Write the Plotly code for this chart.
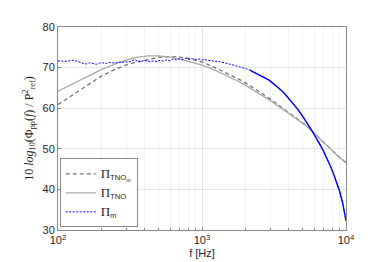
import plotly.graph_objects as go

# ---- data ----
f_meas = [100, 105, 110, 116, 122, 128, 135, 142, 150, 158, 166, 175, 184, 194, 204, 215, 226, 238, 250, 263,
          277, 292, 307, 323, 340, 358, 377, 397, 418, 440, 463, 487, 513, 540, 568, 598, 630, 663, 698, 735,
          773, 814, 857, 902, 950, 1000, 1050, 1100, 1160, 1220, 1280, 1350, 1420, 1500, 1580, 1660, 1750, 1840,
          1940, 2040, 2150, 2260, 2380, 2500, 2630, 2770, 2920, 3070, 3230, 3400, 3580, 3770, 3970, 4180, 4400,
          4630, 4870, 5130, 5400, 5680, 5980, 6300, 6630, 6980, 7350, 7730, 8140, 8570, 9020, 9500, 10000]
pi_m = [71.6, 71.7, 71.5, 71.6, 71.7, 71.8, 71.6, 71.3, 71.0, 70.9, 71.2, 71.0, 70.8, 71.1, 71.2, 71.0, 71.3, 71.2,
        71.1, 71.4, 71.2, 71.5, 71.3, 71.6, 72.0, 71.5, 71.4, 71.8, 71.6, 71.4, 71.7, 71.5, 71.8, 71.6, 71.9, 71.7,
        72.1, 71.9, 72.2, 72.0, 72.3, 72.0, 72.2, 72.0, 72.1, 71.9, 72.0, 71.7, 71.8, 71.5, 71.6, 71.3, 71.2, 71.0,
        70.8, 70.6, 70.3, 70.2, 69.9, 69.7, 69.4, 69.0, 68.7, 68.3, 67.9, 67.4, 66.9, 66.3, 65.7, 65.0, 64.3, 63.5,
        62.6, 61.7, 60.7, 59.7, 58.6, 57.5, 56.2, 55.0, 53.7, 52.3, 50.9, 49.4, 47.8, 46.0, 44.1, 42.0, 39.6, 36.5, 32.3]
dense_start = 60  # from ~2 kHz the noisy measurement looks solid

f_model = [100, 125, 150, 170, 200, 250, 300, 350, 420, 500, 600, 700, 800, 1000, 1230, 1500, 1770, 2080,
           2500, 3030, 4000, 5180, 6050, 7000, 8000, 8830, 10000]
pi_tno = [64.2, 65.9, 67.3, 68.2, 69.5, 70.9, 71.9, 72.5, 72.9, 72.9, 72.6, 72.1, 71.6, 70.6, 69.4, 68.0, 66.7,
          65.3, 63.6, 61.7, 58.7, 55.9, 53.7, 51.5, 49.5, 48.1, 46.5]
pi_tno_m = [60.9, 63.2, 65.0, 66.2, 67.9, 69.6, 70.7, 71.4, 72.0, 72.5, 72.7, 72.6, 72.3, 71.4, 70.0, 68.6, 67.3,
            65.9, 64.1, 62.1, 58.9, 56.0, 53.8, 51.6, 49.6, 48.2, 46.6]

x_tickvals = [100, 1000, 10000]
x_ticktext = ["10<sup>2</sup>", "10<sup>3</sup>", "10<sup>4</sup>"]
x_minorvals = [200, 300, 400, 500, 600, 700, 800, 900, 2000, 3000, 4000, 5000, 6000, 7000, 8000, 9000]
y_tickvals = [30, 40, 50, 60, 70, 80]

fig = go.Figure()
fig.add_trace(go.Scatter(x=f_model, y=pi_tno_m, mode="lines",
                         line=dict(color="#757575", width=1.3, dash="4px,3px"),
                         name="<span style='font-family:Liberation Serif;font-size:13px'>Π</span><sub>TNO<sub>m</sub></sub>"))
fig.add_trace(go.Scatter(x=f_model, y=pi_tno, mode="lines",
                         line=dict(color="#a8a8a8", width=1.3),
                         name="<span style='font-family:Liberation Serif;font-size:13px'>Π</span><sub>TNO</sub>"))
fig.add_trace(go.Scatter(x=f_meas[dense_start:], y=pi_m[dense_start:], mode="lines",
                         line=dict(color="#0000ff", width=1.4), showlegend=False, hoverinfo="skip"))
fig.add_trace(go.Scatter(x=f_meas, y=pi_m, mode="lines",
                         line=dict(color="#0000ff", width=1, dash="2px,1.5px"),
                         name="<span style='font-family:Liberation Serif;font-size:13px'>Π</span><sub>m</sub>"))

axis_common = dict(showline=True, mirror=True, linecolor="#8a8a8a", linewidth=1,
                   gridcolor="#e6e6e6", zeroline=False, ticks="inside", ticklen=3,
                   tickcolor="#8a8a8a", tickfont=dict(family="Liberation Sans, Arial", size=11, color="#262626"))

fig.update_xaxes(type="log", range=[2, 4], tickvals=x_tickvals, ticktext=x_ticktext,
                 title=dict(text="f [Hz]", font=dict(family="Liberation Sans, Arial", size=11, color="#262626"),
                            standoff=4),
                 minor=dict(tickvals=x_minorvals, showgrid=True, gridcolor="#f2f2f2",
                            ticks="inside", ticklen=2, tickcolor="#8a8a8a"),
                 **axis_common)
fig.update_yaxes(range=[30, 80], tickvals=y_tickvals,
                 title=dict(text="10 <i>log</i><sub>10</sub>(Φ<sub>pp</sub>(<i>f</i>) / P<sup>2</sup><sub>ref</sub>)",
                            font=dict(family="Liberation Serif, Times New Roman", size=12, color="#262626"),
                            standoff=6),
                 **axis_common)

fig.update_layout(
    width=374, height=262,
    margin=dict(l=50, r=36, t=19, b=40),
    paper_bgcolor="white", plot_bgcolor="white",
    showlegend=True,
    legend=dict(x=0.006, y=0.013, xanchor="left", yanchor="bottom",
                bgcolor="white", bordercolor="#8a8a8a", borderwidth=1,
                font=dict(family="Liberation Sans, Arial", size=11, color="#262626"),
                itemwidth=30, tracegroupgap=0),
)

fig.write_html("out.html")
